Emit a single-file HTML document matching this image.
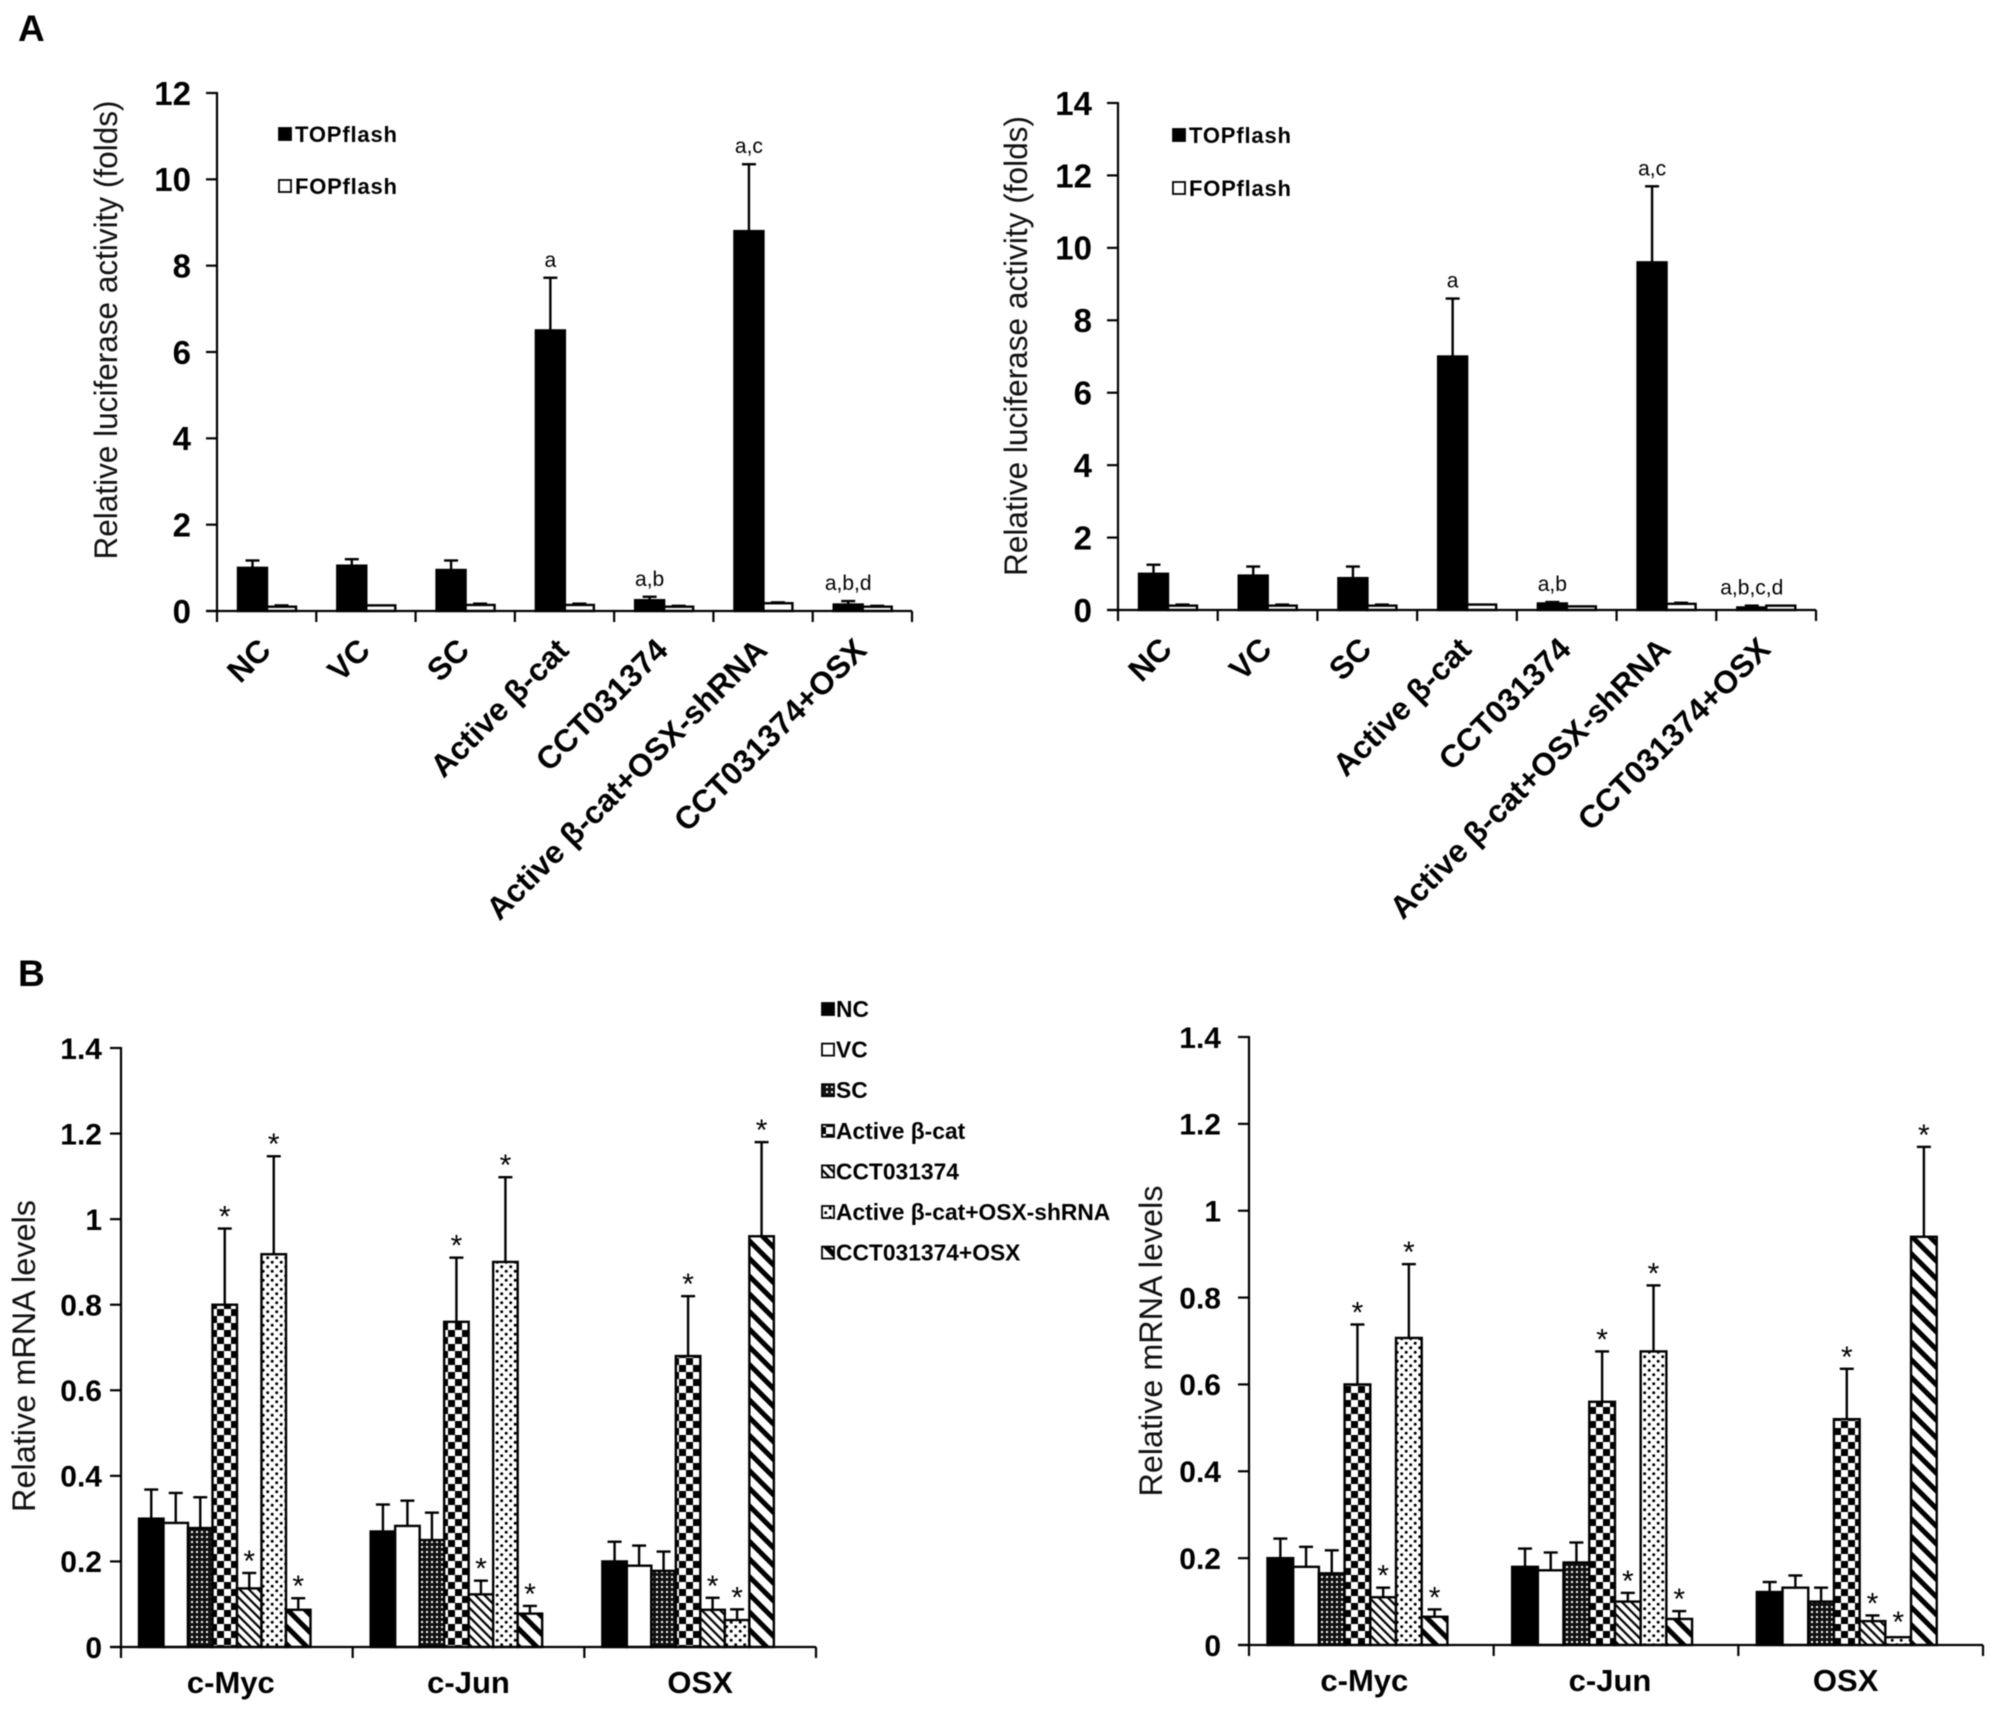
<!DOCTYPE html>
<html lang="en">
<head>
<meta charset="utf-8">
<title>Luciferase activity and mRNA levels</title>
<style>
html,body{margin:0;padding:0;background:#fff;}
svg{display:block;font-family:"Liberation Sans",Arial,sans-serif;filter:blur(0.4px);}
</style>
</head>
<body>
<svg id="figure" xmlns="http://www.w3.org/2000/svg" width="2008" height="1710" viewBox="0 0 2008 1710">
<defs>
<pattern id="p-solid" width="4" height="4" patternUnits="userSpaceOnUse"><rect width="4" height="4" fill="#000"/></pattern>
<pattern id="p-white" width="4" height="4" patternUnits="userSpaceOnUse"><rect width="4" height="4" fill="#fff"/></pattern>
<pattern id="p-sc" width="5" height="5" patternUnits="userSpaceOnUse"><rect width="5" height="5" fill="#111"/><rect x="1" y="1" width="2" height="2" fill="#fff"/></pattern>
<pattern id="p-check" width="14" height="14" patternUnits="userSpaceOnUse"><rect width="14" height="14" fill="#fff"/><rect width="7" height="7" fill="#000"/><rect x="7" y="7" width="7" height="7" fill="#000"/></pattern>
<pattern id="p-thin" width="6.5" height="6.5" patternUnits="userSpaceOnUse" patternTransform="rotate(-45)"><rect width="6.5" height="6.5" fill="#fff"/><rect width="2.2" height="6.5" fill="#000"/></pattern>
<pattern id="p-dots" width="9" height="9" patternUnits="userSpaceOnUse"><rect width="9" height="9" fill="#fff"/><circle cx="2.2" cy="2.2" r="1.5" fill="#000"/><circle cx="6.7" cy="6.7" r="1.5" fill="#000"/></pattern>
<pattern id="p-thick" width="12.5" height="12.5" patternUnits="userSpaceOnUse" patternTransform="rotate(-45)"><rect width="12.5" height="12.5" fill="#fff"/><rect width="5" height="12.5" fill="#000"/></pattern>
</defs>
<text x="18" y="41" font-size="37" font-weight="bold">A</text>
<text x="18" y="986" font-size="37" font-weight="bold">B</text>
</svg>
<script>
// Panel A categories and ticks
const aCategories = ["NC","VC","SC","Active β-cat","CCT031374","Active β-cat+OSX-shRNA","CCT031374+OSX"];
const a1YTicks = [0,2,4,6,8,10,12];
const a2YTicks = [0,2,4,6,8,10,12,14];
const a1Top = [1.0,1.05,0.95,6.5,0.25,8.8,0.15];
const a1TopErr = [0.17,0.15,0.22,1.22,0.08,1.55,0.08];
const a1Fop = [0.1,0.13,0.14,0.14,0.1,0.18,0.1];
const a1FopErr = [0.03,0,0.03,0.03,0.02,0.02,0.02];
const a1Notes = ["","","","a","a,b","a,c","a,b,d"];
const a2Top = [1.0,0.95,0.88,7.0,0.18,9.6,0.07];
const a2TopErr = [0.25,0.25,0.32,1.6,0.04,2.1,0.05];
const a2Fop = [0.12,0.12,0.12,0.15,0.1,0.17,0.12];
const a2FopErr = [0.03,0.03,0.03,0,0,0.03,0];
const a2Notes = ["","","","a","a,b","a,c","a,b,c,d"];

// Panel B categories and ticks
const bGroups = ["c-Myc","c-Jun","OSX"];
const bYTicks = [0,0.2,0.4,0.6,0.8,1,1.2,1.4];
const bNoStars = ["","",""];
const bStars = ["*","*","*"];

const b1Nc = [0.3,0.27,0.2];
const b1NcErr = [0.068,0.063,0.046];
const b1Vc = [0.29,0.283,0.19];
const b1VcErr = [0.07,0.059,0.047];
const b1Sc = [0.278,0.25,0.178];
const b1ScErr = [0.072,0.064,0.045];
const b1Active = [0.8,0.76,0.68];
const b1ActiveErr = [0.178,0.15,0.14];
const b1Cct = [0.137,0.123,0.087];
const b1CctErr = [0.036,0.032,0.028];
const b1Sh = [0.918,0.9,0.063];
const b1ShErr = [0.229,0.198,0.025];
const b1CctOsx = [0.087,0.078,0.96];
const b1CctOsxErr = [0.027,0.018,0.22];

const b2Nc = [0.2,0.18,0.122];
const b2NcErr = [0.045,0.042,0.023];
const b2Vc = [0.18,0.172,0.132];
const b2VcErr = [0.046,0.041,0.028];
const b2Sc = [0.165,0.19,0.1];
const b2ScErr = [0.053,0.046,0.032];
const b2Active = [0.6,0.56,0.52];
const b2ActiveErr = [0.138,0.116,0.116];
const b2Cct = [0.11,0.1,0.055];
const b2CctErr = [0.022,0.02,0.013];
const b2Sh = [0.707,0.676,0.018];
const b2ShErr = [0.17,0.152,0];
const b2CctOsx = [0.065,0.06,0.94];
const b2CctOsxErr = [0.017,0.018,0.207];

const legendANames = ["TOPflash","FOPflash"];
const legendBNames = ["NC","VC","SC","Active β-cat","CCT031374","Active β-cat+OSX-shRNA","CCT031374+OSX"];
const legendBFills = ["p-solid","p-white","p-sc","p-check","p-thin","p-dots","p-thick"];

const svg = document.getElementById("figure");
const NS = "http://www.w3.org/2000/svg";

function make(tag, attrs, parent, txt) {
  const el = document.createElementNS(NS, tag);
  for (const k in attrs) el.setAttribute(k, attrs[k]);
  if (txt !== undefined) el.textContent = txt;
  parent.appendChild(el);
  return el;
}

function drawChart(c) {
  const g = make("g", {}, svg);
  
  
  const yMax = c.yTicks[c.yTicks.length - 1];
  const yScale = v => c.yZero - (v / yMax) * (c.yZero - c.yTop);
  const groupW = (c.x1 - c.x0) / c.groups.length;
  const barX = (gi, si) => c.x0 + gi * groupW + c.offset + si * c.barW;

  // bars, error bars, annotations
  c.series.forEach((s, si) => {
    s.values.forEach((v, gi) => {
      const x = barX(gi, si);
      const y = yScale(v);
      const bar = make("rect", {x: x, y: y, width: c.barW, height: c.yZero - y, fill: "url(#" + s.fill + ")", stroke: "#000", "stroke-width": 2.4}, g);
      
      
      const err = s.errors[gi];
      const cx = x + c.barW / 2;
      const yErr = yScale(v + err);
      if (err > 0) {
        const stem = make("line", {x1: cx, x2: cx, y1: y, y2: yErr, stroke: "#000", "stroke-width": 2.4}, g);
        
        
        const cap = make("line", {x1: cx - 7, x2: cx + 7, y1: yErr, y2: yErr, stroke: "#000", "stroke-width": 2.4}, g);
        
        
      }
      const note = s.notes[gi];
      if (note) {
        const isStar = note === "*";
        const t = make("text", {x: cx, y: isStar ? yErr + (err > 0 ? -2 : -5) : yErr - 11, "font-size": isStar ? 30 : 21, "text-anchor": "middle", fill: "#000"}, g, note);
        
        
      }
    });
  });

  // y axis
  const yAxis = make("line", {x1: c.x0, x2: c.x0, y1: c.yTop - 1, y2: c.yZero + 1, stroke: "#000", "stroke-width": 2.2}, g);
  
  
  c.yTicks.forEach(v => {
    const y = yScale(v);
    const tick = make("line", {x1: c.x0 - 11, x2: c.x0, y1: y, y2: y, stroke: "#000", "stroke-width": 2.2}, g);
    
    
    const lab = make("text", {x: c.x0 - c.labelGap, y: y + c.tickSize * 0.36, "font-size": c.tickSize, "font-weight": "bold", "text-anchor": "end"}, g, String(v));
    
    
  });

  // x axis
  const xAxis = make("line", {x1: c.x0 - 11, x2: c.x1, y1: c.yZero, y2: c.yZero, stroke: "#000", "stroke-width": 2.2}, g);
  
  
  for (let i = 0; i <= c.groups.length; i++) {
    const x = c.x0 + i * groupW;
    const tick = make("line", {x1: x, x2: x, y1: c.yZero, y2: c.yZero + 11, stroke: "#000", "stroke-width": 2.2}, g);
    
    
  }
  c.groups.forEach((name, i) => {
    const cx = c.x0 + (i + 0.5) * groupW;
    let lab;
    if (c.rotate) {
      const ex = cx + 6;
      const ey = c.yZero + 41;
      lab = make("text", {x: ex, y: ey, "font-size": 31.7, "font-weight": "bold", "text-anchor": "end", transform: "rotate(-45 " + ex + " " + ey + ")"}, g, name);
    } else {
      lab = make("text", {x: cx + c.nudge[i], y: c.yZero + 46, "font-size": 31, "font-weight": "bold", "text-anchor": "middle"}, g, name);
    }
    
    
  });

  // y title
  const title = make("text", {x: c.titleX, y: c.titleY, "font-size": 32, "text-anchor": "middle", textLength: c.titleLen, lengthAdjust: "spacingAndGlyphs", transform: "rotate(-90 " + c.titleX + " " + c.titleY + ")", fill: "#111"}, g, c.title);
  
  
}

function noNotes(n) { return new Array(n).fill(""); }

drawChart({name:"luciferase-chart-left", groups:aCategories, yTicks:a1YTicks, x0:217, x1:912, yTop:93, yZero:611, offset:21, barW:29, labelGap:26, tickSize:33, rotate:true, title:"Relative luciferase activity (folds)", titleX:117, titleY:330, titleLen:459,
  series:[{fill:"p-solid",values:a1Top,errors:a1TopErr,notes:a1Notes},{fill:"p-white",values:a1Fop,errors:a1FopErr,notes:noNotes(7)}]});

drawChart({name:"luciferase-chart-right", groups:aCategories, yTicks:a2YTicks, x0:1118, x1:1816, yTop:103, yZero:610, offset:21, barW:29, labelGap:26, tickSize:33, rotate:true, title:"Relative luciferase activity (folds)", titleX:1027, titleY:346, titleLen:460,
  series:[{fill:"p-solid",values:a2Top,errors:a2TopErr,notes:a2Notes},{fill:"p-white",values:a2Fop,errors:a2FopErr,notes:noNotes(7)}]});

drawChart({name:"mrna-chart-left", groups:bGroups, yTicks:bYTicks, x0:121, x1:816, yTop:1048, yZero:1647, offset:18, barW:24.5, labelGap:19, tickSize:30, rotate:false, nudge:[-6,0,0], title:"Relative mRNA levels", titleX:35, titleY:1356, titleLen:312,
  series:[
    {fill:"p-solid",values:b1Nc,errors:b1NcErr,notes:bNoStars},
    {fill:"p-white",values:b1Vc,errors:b1VcErr,notes:bNoStars},
    {fill:"p-sc",values:b1Sc,errors:b1ScErr,notes:bNoStars},
    {fill:"p-check",values:b1Active,errors:b1ActiveErr,notes:bStars},
    {fill:"p-thin",values:b1Cct,errors:b1CctErr,notes:bStars},
    {fill:"p-dots",values:b1Sh,errors:b1ShErr,notes:bStars},
    {fill:"p-thick",values:b1CctOsx,errors:b1CctOsxErr,notes:bStars}
  ]});

drawChart({name:"mrna-chart-right", groups:bGroups, yTicks:bYTicks, x0:1249, x1:1983, yTop:1037, yZero:1645, offset:18.5, barW:25.7, labelGap:28, tickSize:30, rotate:false, nudge:[-7,-6,-15], title:"Relative mRNA levels", titleX:1162, titleY:1341, titleLen:311,
  series:[
    {fill:"p-solid",values:b2Nc,errors:b2NcErr,notes:bNoStars},
    {fill:"p-white",values:b2Vc,errors:b2VcErr,notes:bNoStars},
    {fill:"p-sc",values:b2Sc,errors:b2ScErr,notes:bNoStars},
    {fill:"p-check",values:b2Active,errors:b2ActiveErr,notes:bStars},
    {fill:"p-thin",values:b2Cct,errors:b2CctErr,notes:bStars},
    {fill:"p-dots",values:b2Sh,errors:b2ShErr,notes:bStars},
    {fill:"p-thick",values:b2CctOsx,errors:b2CctOsxErr,notes:bStars}
  ]});

function drawLegendA(markerX, textX, rowYs, textLen) {
  legendANames.forEach((name, i) => {
    const m = make("rect", {x: markerX, y: rowYs[i] - 6, width: 12, height: 12, fill: i === 0 ? "#000" : "#fff", stroke: "#000", "stroke-width": 1.8}, svg);
    
    
    const t = make("text", {x: textX, y: rowYs[i] + 8, "font-size": 22, "font-weight": "bold", textLength: textLen, lengthAdjust: "spacing"}, svg, name);
    
    
  });
}
drawLegendA(279, 295, [134, 186], 102);
drawLegendA(1173, 1189, [135, 188], 102);

legendBNames.forEach((name, i) => {
  const rowY = 1009 + i * 40.6;
  const m = make("rect", {x: 822, y: rowY - 6, width: 12, height: 12, fill: "url(#" + legendBFills[i] + ")", stroke: "#000", "stroke-width": 1.8}, svg);
  
  
  const t = make("text", {x: 836, y: rowY + 8, "font-size": 22.8, "font-weight": "bold"}, svg, name);
  
  
});
</script>
</body>
</html>
